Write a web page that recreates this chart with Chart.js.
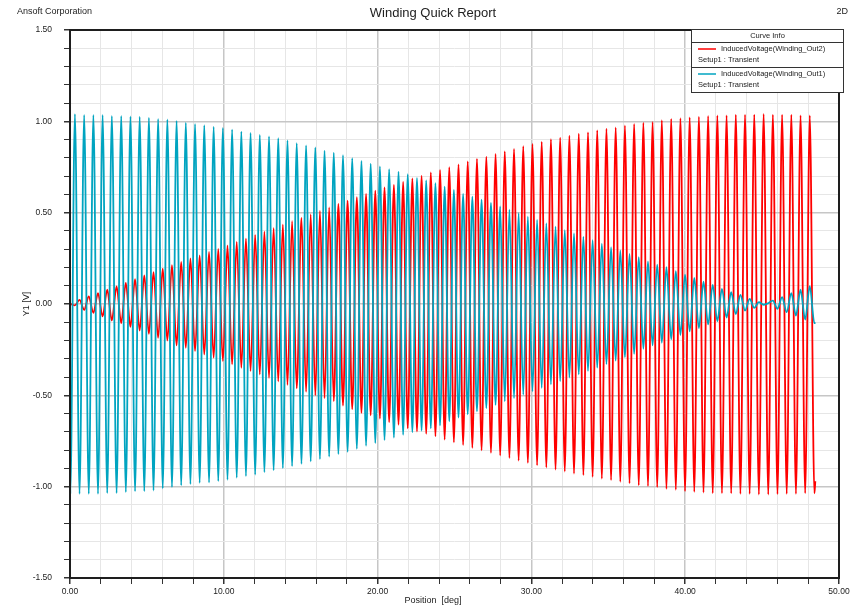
<!DOCTYPE html>
<html>
<head>
<meta charset="utf-8">
<title>Winding Quick Report</title>
<script src="https://cdn.jsdelivr.net/npm/chart.js@4.4.1/dist/chart.umd.min.js"></script>
<style>
  html, body { margin: 0; padding: 0; background: #fff; }
</style>
</head>
<body>
<canvas id="report" width="860" height="611"></canvas>
<script>
// extrema of the two induced voltages (deg / V)
const positionDeg = [
  0,
  0.02, 0.32, 0.62, 0.92, 1.22, 1.52, 1.82, 2.12, 2.42, 2.72,
  3.03, 3.33, 3.63, 3.93, 4.23, 4.53, 4.83, 5.13, 5.43, 5.73,
  6.03, 6.33, 6.63, 6.93, 7.23, 7.53, 7.83, 8.13, 8.43, 8.73,
  9.04, 9.34, 9.64, 9.94, 10.24, 10.54, 10.84, 11.14, 11.44, 11.74,
  12.04, 12.34, 12.64, 12.94, 13.24, 13.54, 13.84, 14.14, 14.44, 14.74,
  15.05, 15.35, 15.65, 15.95, 16.25, 16.55, 16.85, 17.15, 17.45, 17.75,
  18.05, 18.35, 18.65, 18.95, 19.25, 19.55, 19.85, 20.15, 20.45, 20.75,
  21.06, 21.36, 21.66, 21.96, 22.26, 22.56, 22.86, 23.16, 23.46, 23.76,
  24.06, 24.36, 24.66, 24.96, 25.26, 25.56, 25.86, 26.16, 26.46, 26.76,
  27.07, 27.37, 27.67, 27.97, 28.27, 28.57, 28.87, 29.17, 29.47, 29.77,
  30.07, 30.37, 30.67, 30.97, 31.27, 31.57, 31.87, 32.17, 32.47, 32.77,
  33.08, 33.38, 33.68, 33.98, 34.28, 34.58, 34.88, 35.18, 35.48, 35.78,
  36.08, 36.38, 36.68, 36.98, 37.28, 37.58, 37.88, 38.18, 38.48, 38.78,
  39.09, 39.39, 39.69, 39.99, 40.29, 40.59, 40.89, 41.19, 41.49, 41.79,
  42.09, 42.39, 42.69, 42.99, 43.29, 43.59, 43.89, 44.19, 44.49, 44.79,
  45.10, 45.40, 45.70, 46.00, 46.30, 46.60, 46.90, 47.20, 47.50, 47.80,
  48.10, 48.40,
  48.46
];

// InducedVoltage(Winding_Out2), red
const out2Volts = [
  0,
  0.000, -0.008, 0.023, -0.032, 0.041, -0.048, 0.059, -0.068, 0.078, -0.090,
  0.097, -0.105, 0.116, -0.125, 0.136, -0.145, 0.156, -0.163, 0.175, -0.185,
  0.193, -0.200, 0.213, -0.227, 0.231, -0.240, 0.250, -0.258, 0.266, -0.276,
  0.285, -0.294, 0.302, -0.312, 0.321, -0.331, 0.340, -0.349, 0.358, -0.367,
  0.377, -0.386, 0.396, -0.405, 0.415, -0.424, 0.434, -0.443, 0.453, -0.462,
  0.472, -0.481, 0.491, -0.500, 0.510, -0.516, 0.529, -0.532, 0.548, -0.556,
  0.566, -0.576, 0.585, -0.596, 0.603, -0.610, 0.620, -0.627, 0.638, -0.647,
  0.652, -0.661, 0.669, -0.681, 0.687, -0.698, 0.702, -0.711, 0.720, -0.724,
  0.734, -0.742, 0.749, -0.757, 0.764, -0.772, 0.780, -0.788, 0.795, -0.801,
  0.807, -0.815, 0.822, -0.829, 0.836, -0.843, 0.849, -0.857, 0.864, -0.870,
  0.877, -0.883, 0.888, -0.895, 0.902, -0.907, 0.911, -0.917, 0.922, -0.928,
  0.933, -0.937, 0.940, -0.946, 0.951, -0.956, 0.960, -0.964, 0.967, -0.973,
  0.978, -0.982, 0.986, -0.993, 0.993, -0.997, 0.997, -1.003, 1.006, -1.012,
  1.014, -1.017, 1.017, -1.025, 1.022, -1.028, 1.026, -1.032, 1.030, -1.036,
  1.032, -1.036, 1.033, -1.037, 1.036, -1.039, 1.036, -1.039, 1.037, -1.043,
  1.041, -1.043, 1.036, -1.041, 1.036, -1.039, 1.036, -1.039, 1.033, -1.036,
  1.032, -1.036,
  -0.970
];

// InducedVoltage(Winding_Out1), cyan
const out1Volts = [
  0,
  -1.039, 1.040, -1.039, 1.035, -1.039, 1.035, -1.039, 1.035, -1.035, 1.030,
  -1.035, 1.030, -1.030, 1.027, -1.026, 1.026, -1.025, 1.020, -1.021, 1.013,
  -1.010, 1.010, -1.003, 1.003, -0.993, 0.993, -0.986, 0.986, -0.979, 0.979,
  -0.977, 0.971, -0.970, 0.964, -0.962, 0.955, -0.951, 0.944, -0.942, 0.937,
  -0.934, 0.926, -0.921, 0.917, -0.911, 0.908, -0.899, 0.895, -0.888, 0.880,
  -0.875, 0.868, -0.862, 0.857, -0.849, 0.840, -0.835, 0.829, -0.822, 0.815,
  -0.809, 0.798, -0.793, 0.784, -0.776, 0.769, -0.762, 0.753, -0.745, 0.738,
  -0.732, 0.725, -0.716, 0.711, -0.702, 0.691, -0.694, 0.676, -0.681, 0.661,
  -0.665, 0.643, -0.642, 0.625, -0.622, 0.603, -0.604, 0.588, -0.588, 0.571,
  -0.570, 0.553, -0.552, 0.534, -0.533, 0.516, -0.515, 0.497, -0.496, 0.478,
  -0.478, 0.460, -0.459, 0.441, -0.440, 0.423, -0.422, 0.404, -0.403, 0.386,
  -0.385, 0.367, -0.366, 0.349, -0.348, 0.330, -0.329, 0.311, -0.310, 0.293,
  -0.292, 0.274, -0.273, 0.256, -0.245, 0.233, -0.227, 0.216, -0.212, 0.202,
  -0.193, 0.180, -0.170, 0.161, -0.150, 0.143, -0.132, 0.123, -0.112, 0.105,
  -0.094, 0.083, -0.074, 0.065, -0.055, 0.050, -0.036, 0.028, -0.021, 0.010,
  -0.004, 0.004, 0.019, -0.026, 0.037, -0.045, 0.059, -0.063, 0.078, -0.085,
  0.098, -0.105,
  -0.100
];

const xLabelled = [0, 10, 20, 30, 40, 50];
const yLabelled = [-1.5, -1.0, -0.5, 0, 0.5, 1.0, 1.5];
const seriesNames = ["InducedVoltage(Winding_Out2)", "InducedVoltage(Winding_Out1)"];
const seriesColors = ["rgb(255,0,0)", "rgb(0,164,192)"];
const setupName = "Setup1 : Transient";

const FONT = "'Liberation Sans', Arial, sans-serif";

function isLabelled(list, v) {
  return list.some((t) => Math.abs(t - v) < 1e-6);
}

function toPoints(values) {
  return positionDeg.map((x, i) => ({ x: x, y: values[i] }));
}

// titles, frame and the "Curve Info" box
const reportDecor = {
  id: "reportDecor",
  afterDraw(chart) {
    const ctx = chart.ctx;
    const area = chart.chartArea;
    ctx.save();

    ctx.strokeStyle = "#1e1e1e";
    ctx.lineWidth = 2;
    ctx.strokeRect(area.left, area.top, area.right - area.left, area.bottom - area.top);

    ctx.fillStyle = "#222";
    ctx.textBaseline = "middle";
    ctx.font = "9px " + FONT;
    ctx.textAlign = "left";
    ctx.fillText("Ansoft Corporation", 17, 12);
    ctx.textAlign = "right";
    ctx.fillText("2D", 848, 12);
    ctx.textAlign = "center";
    ctx.fillText("Position  [deg]", 433, 601);
    ctx.font = "13px " + FONT;
    ctx.fillText("Winding Quick Report", 433, 13);

    ctx.save();
    ctx.font = "9px " + FONT;
    ctx.translate(27, 304);
    ctx.rotate(-Math.PI / 2);
    ctx.fillText("Y1 [V]", 0, 0);
    ctx.restore();

    // legend box
    const bx = 691.5, by = 29.5, bw = 152, bh = 63;
    ctx.fillStyle = "#fff";
    ctx.fillRect(bx, by, bw, bh);
    ctx.strokeStyle = "#333";
    ctx.lineWidth = 1;
    ctx.strokeRect(bx, by, bw, bh);
    ctx.beginPath();
    ctx.moveTo(bx, 42.5);
    ctx.lineTo(bx + bw, 42.5);
    ctx.moveTo(bx, 67.5);
    ctx.lineTo(bx + bw, 67.5);
    ctx.stroke();

    ctx.fillStyle = "#222";
    ctx.font = "7.5px " + FONT;
    ctx.textAlign = "center";
    ctx.fillText("Curve Info", bx + bw / 2, 36);

    const rows = [49, 74];
    rows.forEach((y, i) => {
      ctx.strokeStyle = seriesColors[i];
      ctx.lineWidth = 1.5;
      ctx.beginPath();
      ctx.moveTo(698, y);
      ctx.lineTo(716, y);
      ctx.stroke();
      ctx.textAlign = "left";
      ctx.fillText(seriesNames[i], 721, y);
      ctx.fillText(setupName, 698, y + 11);
    });

    ctx.restore();
  },
};

const chart = new Chart(document.getElementById("report"), {
  type: "line",
  data: {
    datasets: [
      {
        label: seriesNames[0],
        data: toPoints(out2Volts),
        borderColor: seriesColors[0],
        borderWidth: 1.8,
        pointRadius: 0,
        fill: false,
        cubicInterpolationMode: "monotone",
        order: 1, // drawn underneath Out1
      },
      {
        label: seriesNames[1],
        data: toPoints(out1Volts),
        borderColor: seriesColors[1],
        borderWidth: 1.8,
        pointRadius: 0,
        fill: false,
        cubicInterpolationMode: "monotone",
        order: 0,
      },
    ],
  },
  options: {
    responsive: false,
    animation: false,
    events: [],
    layout: { padding: { top: 30, right: 21, bottom: 0, left: 0 } },
    plugins: {
      legend: { display: false },
      tooltip: { enabled: false },
    },
    scales: {
      x: {
        type: "linear",
        min: 0,
        max: 50,
        afterFit: (scale) => {
          scale.height = 33;
        },
        border: { display: false },
        grid: {
          color: (c) => (c.tick && c.tick.value % 10 === 0 ? "#c6c6c6" : "#e6e6e6"),
          lineWidth: (c) => (c.tick && c.tick.value % 10 === 0 ? 1.5 : 1),
          tickColor: "#333",
          tickLength: 6,
        },
        ticks: {
          stepSize: 2,
          autoSkip: false,
          maxRotation: 0,
          padding: 3,
          color: "#222",
          font: { family: FONT, size: 8.5 },
          callback: (v) => (isLabelled(xLabelled, v) ? v.toFixed(2) : ""),
        },
      },
      y: {
        type: "linear",
        min: -1.5,
        max: 1.5,
        afterFit: (scale) => {
          scale.width = 70;
        },
        border: { display: false },
        grid: {
          color: (c) => (c.tick && isLabelled(yLabelled, c.tick.value) ? "#c6c6c6" : "#e6e6e6"),
          lineWidth: (c) => (c.tick && isLabelled(yLabelled, c.tick.value) ? 1.5 : 1),
          tickColor: "#333",
          tickLength: 6,
        },
        ticks: {
          stepSize: 0.1,
          autoSkip: false,
          padding: 12,
          color: "#222",
          font: { family: FONT, size: 8.5 },
          callback: (v) => (isLabelled(yLabelled, v) ? v.toFixed(2) : ""),
        },
      },
    },
  },
  plugins: [reportDecor],
});
</script>
</body>
</html>
